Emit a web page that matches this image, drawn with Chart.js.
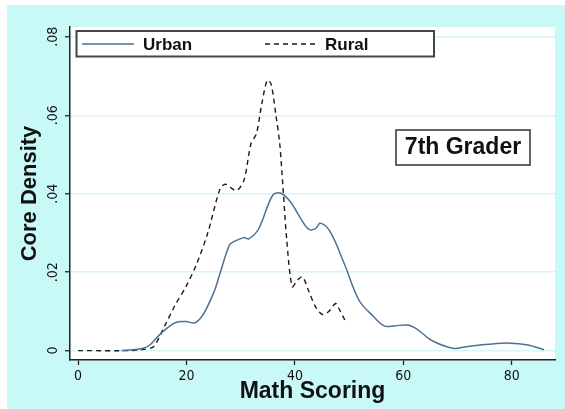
<!DOCTYPE html>
<html>
<head>
<meta charset="utf-8">
<script src="https://cdn.jsdelivr.net/npm/chart.js@4"></script>
<style>
  html, body { margin: 0; padding: 0; background: #fff; }
  canvas { display: block; }
</style>
</head>
<body>
<canvas id="densityChart" width="565" height="409"></canvas>
<script>
// kernel density, 7th grade math scores
const urbanX = [8, 10, 12, 13.3, 15.3, 17.9, 19.9, 21.6, 23.2, 25.2, 26, 27.9, 28.5, 30.6, 31.5, 33.3, 35.9, 37.4, 39.2, 40.5, 42.5, 43.8, 44.7, 46.5, 49.1, 51.8, 54.5, 56.5, 58.4, 60.8, 62.7, 65.1, 69.1, 71.7, 75.7, 79.7, 83, 86];
const urbanY = [0, 0.0002, 0.0006, 0.0015, 0.0044, 0.0071, 0.0074, 0.0071, 0.0095, 0.0154, 0.0189, 0.0269, 0.0276, 0.0288, 0.0285, 0.031, 0.0396, 0.0401, 0.0379, 0.035, 0.031, 0.0311, 0.0325, 0.0303, 0.0222, 0.0129, 0.0087, 0.0063, 0.0063, 0.0065, 0.0053, 0.0027, 0.0006, 0.001, 0.0016, 0.0019, 0.0014, 0.0002];

const ruralX = [0, 9.6, 12, 13.9, 15.9, 17.9, 19.9, 21.9, 23.9, 26.2, 27.2, 29.2, 30.6, 31.9, 32.9, 33.9, 34.9, 35.6, 36.5, 37.2, 37.8, 38.5, 39.5, 40.5, 41.4, 42.5, 43.8, 45.1, 46.2, 47.5, 48.1, 49.2];
const ruralY = [0, 0, 0.0003, 0.001, 0.0061, 0.0116, 0.0163, 0.0222, 0.0299, 0.0413, 0.0424, 0.0408, 0.0434, 0.0528, 0.0553, 0.063, 0.0689, 0.068, 0.060, 0.0528, 0.0417, 0.0282, 0.0163, 0.018, 0.0188, 0.0154, 0.0112, 0.0092, 0.0099, 0.012, 0.0108, 0.0078];

const xTicks = [0, 20, 40, 60, 80];
const yTicks = [0, 0.02, 0.04, 0.06, 0.08];

const seriesNames = ['Urban', 'Rural'];
const panelLabel = '7th Grader';

const narrow = '"Liberation Sans Narrow", "DejaVu Sans Condensed", "Liberation Sans", Arial, sans-serif';
const bold = '"Liberation Sans", Arial, sans-serif';

function toPoints(xs, ys) {
    return xs.map((x, i) => ({ x: x, y: ys[i] }));
}

const backdrop = {
    id: 'backdrop',
    beforeDraw(chart) {
        const { ctx, chartArea: a } = chart;
        ctx.save();
        ctx.fillStyle = '#ffffff';
        ctx.fillRect(0, 0, chart.width, chart.height);
        ctx.fillStyle = '#c9f9f7';
        ctx.fillRect(7, 5, chart.width - 7, chart.height - 5);
        ctx.fillStyle = '#ffffff';
        ctx.fillRect(a.left, a.top, a.right - a.left, a.bottom - a.top);
        ctx.restore();
    }
};

const boxes = {
    id: 'boxes',
    afterDraw(chart) {
        const ctx = chart.ctx;
        const ds = chart.data.datasets;
        ctx.save();
        // legend
        ctx.fillStyle = '#fff';
        ctx.fillRect(76.5, 31, 357.5, 25.5);
        ctx.strokeStyle = '#444';
        ctx.lineWidth = 2;
        ctx.strokeRect(76.5, 31, 357.5, 25.5);

        const items = [
            { x0: 82, x1: 134, tx: 143 },
            { x0: 265, x1: 315, tx: 325 }
        ];
        items.forEach((it, i) => {
            ctx.beginPath();
            ctx.strokeStyle = ds[i].borderColor;
            ctx.lineWidth = ds[i].borderWidth;
            ctx.setLineDash(ds[i].borderDash || []);
            ctx.moveTo(it.x0, 44);
            ctx.lineTo(it.x1, 44);
            ctx.stroke();
            ctx.setLineDash([]);
            ctx.fillStyle = '#111';
            ctx.font = 'bold 17px ' + bold;
            ctx.textBaseline = 'middle';
            ctx.textAlign = 'left';
            ctx.fillText(ds[i].label, it.tx, 45.5);
        });

        // panel label
        ctx.fillStyle = '#fff';
        ctx.fillRect(396, 130, 134, 35);
        ctx.strokeStyle = '#333';
        ctx.lineWidth = 1.5;
        ctx.strokeRect(396, 130, 134, 35);
        ctx.fillStyle = '#111';
        ctx.font = 'bold 23px ' + bold;
        ctx.textAlign = 'center';
        ctx.textBaseline = 'middle';
        ctx.fillText(panelLabel, 463, 148);
        ctx.restore();
    }
};

new Chart(document.getElementById('densityChart'), {
    type: 'line',
    data: {
        datasets: [{
            label: seriesNames[0],
            data: toPoints(urbanX, urbanY),
            borderColor: '#4d7096',
            borderWidth: 1.5,
            pointRadius: 0,
            tension: 0.35,
            fill: false
        }, {
            label: seriesNames[1],
            data: toPoints(ruralX, ruralY),
            borderColor: '#1a1a1a',
            borderWidth: 1.4,
            borderDash: [5, 4],
            pointRadius: 0,
            tension: 0.3,
            fill: false
        }]
    },
    options: {
        responsive: false,
        animation: false,
        layout: { padding: { left: 0, right: 10, top: 27, bottom: 0 } },
        plugins: {
            legend: { display: false },
            tooltip: { enabled: false }
        },
        scales: {
            x: {
                type: 'linear',
                min: -1.5,
                max: 88,
                afterBuildTicks: (s) => { s.ticks = xTicks.map(v => ({ value: v })); },
                afterFit: (s) => { s.height = 49; },
                grid: { drawOnChartArea: false, drawTicks: true, tickLength: 5, tickColor: '#222', tickWidth: 1.3 },
                border: { color: '#222', width: 1.5 },
                ticks: { color: '#111', font: { family: narrow, size: 14 }, padding: 3, maxRotation: 0, autoSkip: false },
                title: {
                    display: true,
                    text: 'Math Scoring',
                    color: '#111',
                    font: { family: bold, size: 23, weight: 'bold' },
                    padding: { top: 0, bottom: 4 }
                }
            },
            y: {
                min: -0.0024,
                max: 0.0825,
                afterBuildTicks: (s) => { s.ticks = yTicks.map(v => ({ value: v })); },
                afterFit: (s) => { s.width = 70; },
                grid: { color: '#d4f6f6', lineWidth: 1.5, drawTicks: true, tickLength: 5, tickColor: '#222', tickWidth: 1.3 },
                border: { color: '#222', width: 1.5 },
                ticks: {
                    color: '#111',
                    font: { family: narrow, size: 14 },
                    padding: 2,
                    minRotation: 90,
                    maxRotation: 90,
                    crossAlign: 'center',
                    autoSkip: false,
                    callback: (v) => v === 0 ? '0' : String(v).replace('0.', '.')
                },
                title: {
                    display: true,
                    text: 'Core Density',
                    color: '#111',
                    font: { family: bold, size: 22, weight: 'bold' },
                    padding: { top: 17, bottom: 0 }
                }
            }
        }
    },
    plugins: [backdrop, boxes]
});
</script>
</body>
</html>
